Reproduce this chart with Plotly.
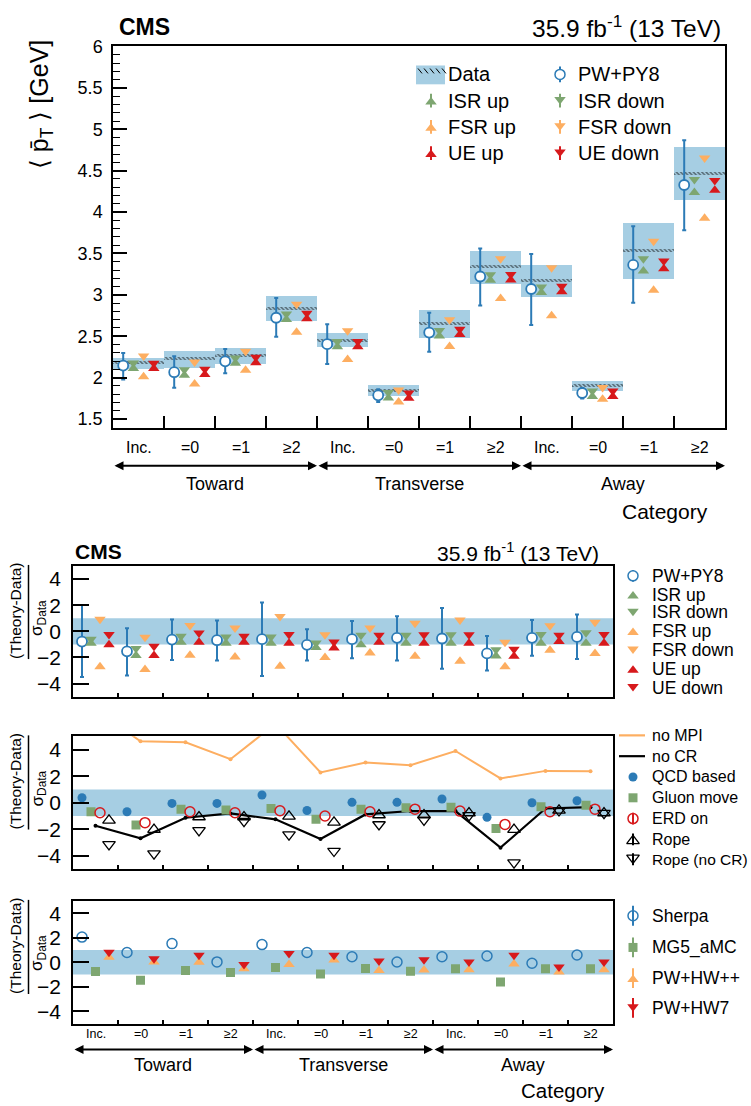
import plotly.graph_objects as go

W, H = 751, 1106

# ---------------- data ----------------
categories = ["Inc.", "=0", "=1", "≥2"] * 3
groups = ["Toward", "Transverse", "Away"]

data_val = [2.186, 2.234, 2.266, 2.836, 2.457, 1.847, 2.664, 3.342, 3.175, 1.907, 3.541, 4.467]
data_lo = [2.106, 2.126, 2.166, 2.692, 2.373, 1.787, 2.485, 3.135, 2.983, 1.847, 3.199, 4.147]
data_hi = [2.246, 2.325, 2.357, 2.991, 2.545, 1.915, 2.824, 3.533, 3.362, 1.967, 3.876, 4.785]
pwpy8 = [2.146, 2.066, 2.198, 2.724, 2.405, 1.787, 2.545, 3.222, 3.071, 1.815, 3.362, 4.327]
pwpy8_hi = [2.297, 2.258, 2.345, 2.963, 2.644, 1.859, 2.784, 3.561, 3.494, 1.875, 3.829, 4.869]
pwpy8_lo = [1.978, 1.879, 2.054, 2.493, 2.166, 1.707, 2.313, 2.872, 2.636, 1.747, 2.904, 3.781]
isr_dn = [2.162, 2.080, 2.224, 2.754, 2.423, 1.805, 2.555, 3.228, 3.081, 1.825, 3.422, 4.379]
isr_up = [2.126, 2.044, 2.188, 2.718, 2.387, 1.769, 2.519, 3.192, 3.045, 1.789, 3.302, 4.251]
fsr_dn = [2.246, 2.174, 2.305, 2.872, 2.553, 1.835, 2.684, 3.422, 3.314, 1.867, 3.633, 4.638]
fsr_up = [2.026, 1.939, 2.106, 2.565, 2.234, 1.720, 2.393, 2.971, 2.764, 1.755, 3.071, 3.940]
ue_dn = [2.158, 2.088, 2.232, 2.762, 2.423, 1.801, 2.571, 3.232, 3.089, 1.825, 3.394, 4.367]
ue_up = [2.126, 2.052, 2.196, 2.726, 2.387, 1.765, 2.535, 3.196, 3.053, 1.789, 3.330, 4.279]

r_pw = [-0.78, -1.53, -0.63, -0.68, -0.60, -1.03, -0.60, -0.50, -0.55, -1.69, -0.50, -0.43]
r_pw_hi = [2.01, 0.23, 0.91, 0.83, 2.21, 0.15, 0.78, 1.16, 1.79, -0.35, 0.86, 1.28]
r_pw_lo = [-3.50, -3.37, -2.19, -2.24, -3.42, -2.24, -2.06, -2.24, -2.87, -2.99, -1.86, -2.11]
r_isr_dn = [-0.70, -1.41, -0.48, -0.53, -0.53, -0.98, -0.40, -0.40, -0.35, -1.50, -0.33, -0.20]
r_isr_up = [-0.81, -1.76, -0.75, -0.81, -0.81, -1.15, -0.93, -0.81, -0.81, -1.80, -0.81, -0.81]
r_fsr_dn = [0.83, -0.55, 0.35, 0.15, 1.03, -0.35, 0.15, 0.53, 0.78, -0.93, 0.33, 0.60]
r_fsr_up = [-2.62, -2.82, -1.74, -1.86, -2.57, -1.91, -1.56, -1.81, -2.19, -2.62, -1.36, -1.61]
r_ue_dn = [-0.33, -1.23, -0.23, -0.48, -0.33, -0.91, -0.40, -0.35, -0.35, -1.46, -0.40, -0.33]
r_ue_up = [-0.93, -1.76, -0.75, -0.75, -0.81, -1.18, -0.75, -0.81, -0.81, -1.81, -0.68, -0.81]

r_nompi = [7.0, 4.63, 4.55, 3.28, 5.95, 2.28, 3.03, 2.83, 3.90, 1.83, 2.40, 2.38]
r_nocr = [-1.73, -2.68, -1.13, -0.80, -1.25, -2.73, -0.88, -0.62, -0.63, -3.38, -0.43, -0.33]
r_qcd = [0.38, -0.68, -0.05, -0.05, 0.58, -0.58, 0.03, 0.03, 0.28, -1.10, 0.00, 0.15]
r_gluon = [-0.68, -1.68, -0.48, -0.55, -0.43, -1.25, -0.48, -0.38, -0.33, -1.93, -0.30, -0.18]
r_erd = [-0.75, -1.50, -0.68, -0.75, -0.60, -1.00, -0.68, -0.48, -0.63, -1.63, -0.68, -0.48]
r_rope = [-1.23, -1.93, -0.98, -0.98, -0.93, -1.38, -0.83, -0.83, -0.68, -1.93, -0.48, -0.68]
r_rope_nocr = [-3.23, -3.93, -2.18, -1.48, -2.50, -3.73, -1.73, -1.38, -1.05, -4.60, -0.68, -0.88]

r_sherpa = [2.05, 0.80, 1.52, 0.03, 1.44, 0.80, 0.45, 0.02, 0.45, 0.51, -0.08, 0.59]
r_mg5 = [-0.75, -1.47, -0.67, -0.83, -0.43, -0.96, -0.51, -0.72, -0.53, -1.60, -0.53, -0.53]
r_hw7 = [0.72, 0.19, 0.48, -0.27, 0.61, 0.48, 0.00, 0.10, -0.08, 0.48, -0.48, -0.08]
r_hwpp = [0.51, 0.12, 0.11, -0.43, -0.08, 0.29, -0.56, -0.53, -0.51, -0.03, -0.69, -0.51]

# ---------------- style ----------------
FONT = "Liberation Sans"
BLUE = "#2c7bb6"
LBLUE = "#a6cee3"
GREEN = "#7ea671"
ORANGE = "#fdae61"
RED = "#d7191c"
TRI = 10
BAND = 0.018

def px(x):
    return x / W

def py(y):
    return 1 - y / H

TOP = dict(x0=113, x1=725, y0=37, y1=423, r=[1.39, 6.01])
P1 = dict(x0=73, x1=613, y0=562, y1=694, r=[-5, 5])
P2 = dict(x0=73, x1=613, y0=734, y1=868, r=[-5, 5])
P3 = dict(x0=73, x1=613, y0=900, y1=1024, r=[-5, 5])

def ppu(p):
    return (p["y1"] - p["y0"]) / (p["r"][1] - p["r"][0])

def up_anchor(vals, p):
    # plotly's triangle-up is anchored r/4 below its visual centre
    return [v - (TRI / 8) / ppu(p) for v in vals]

def dn_anchor(vals, p):
    return [v + (TRI / 8) / ppu(p) for v in vals]

idx = list(range(len(categories)))

def at(d):
    return [i + d for i in idx]

fig = go.Figure()

# ---------------- top panel ----------------
fig.add_trace(go.Bar(x=idx, y=[h - l for h, l in zip(data_hi, data_lo)], base=data_lo, width=1,
                     marker=dict(color=LBLUE, line=dict(width=0)), xaxis="x", yaxis="y", showlegend=False))
fig.add_trace(go.Bar(x=idx, y=[2 * BAND] * len(idx), base=[v - BAND for v in data_val], width=1,
                     marker=dict(color="rgba(0,0,0,0)", line=dict(width=0),
                                 pattern=dict(shape="\\", fgcolor="black", size=3, solidity=0.5)),
                     xaxis="x", yaxis="y", showlegend=False))

def tri_pair(xs, up, dn, cup, cdn, p, xa, ya):
    fig.add_trace(go.Scatter(x=xs, y=up_anchor(up, p), mode="markers", xaxis=xa, yaxis=ya, showlegend=False,
                             marker=dict(symbol="triangle-up", size=TRI, color=cup, line=dict(width=0))))
    fig.add_trace(go.Scatter(x=xs, y=dn_anchor(dn, p), mode="markers", xaxis=xa, yaxis=ya, showlegend=False,
                             marker=dict(symbol="triangle-down", size=TRI, color=cdn, line=dict(width=0))))

fig.add_trace(go.Scatter(x=at(-0.3), y=pwpy8, mode="markers", xaxis="x", yaxis="y", showlegend=False,
                         error_y=dict(type="data", array=[h - v for h, v in zip(pwpy8_hi, pwpy8)],
                                      arrayminus=[v - l for v, l in zip(pwpy8, pwpy8_lo)],
                                      color=BLUE, thickness=2, width=2),
                         marker=dict(symbol="circle", size=10, color="white", line=dict(color=BLUE, width=1.8))))
tri_pair(at(-0.1), isr_up, isr_dn, GREEN, GREEN, TOP, "x", "y")
tri_pair(at(0.1), fsr_up, fsr_dn, ORANGE, ORANGE, TOP, "x", "y")
tri_pair(at(0.3), ue_up, ue_dn, RED, RED, TOP, "x", "y")

# ---------------- panel 1 ----------------
fig.add_trace(go.Scatter(x=at(-0.3), y=r_pw, mode="markers", xaxis="x2", yaxis="y2", showlegend=False,
                         error_y=dict(type="data", array=[h - v for h, v in zip(r_pw_hi, r_pw)],
                                      arrayminus=[v - l for v, l in zip(r_pw, r_pw_lo)],
                                      color=BLUE, thickness=2, width=2),
                         marker=dict(symbol="circle", size=10, color="white", line=dict(color=BLUE, width=1.8))))
tri_pair(at(-0.1), r_isr_up, r_isr_dn, GREEN, GREEN, P1, "x2", "y2")
tri_pair(at(0.1), r_fsr_up, r_fsr_dn, ORANGE, ORANGE, P1, "x2", "y2")
tri_pair(at(0.3), r_ue_up, r_ue_dn, RED, RED, P1, "x2", "y2")

# ---------------- panel 2 ----------------
fig.add_trace(go.Scatter(x=idx, y=r_nompi, mode="lines+markers", xaxis="x3", yaxis="y3", showlegend=False,
                         line=dict(color=ORANGE, width=2), marker=dict(size=4, color=ORANGE)))
fig.add_trace(go.Scatter(x=idx, y=r_nocr, mode="lines+markers", xaxis="x3", yaxis="y3", showlegend=False,
                         line=dict(color="black", width=2.2), marker=dict(size=4, color="black")))
fig.add_trace(go.Scatter(x=at(-0.3), y=r_qcd, mode="markers", xaxis="x3", yaxis="y3", showlegend=False,
                         marker=dict(symbol="circle", size=9, color=BLUE)))
fig.add_trace(go.Scatter(x=at(-0.1), y=r_gluon, mode="markers", xaxis="x3", yaxis="y3", showlegend=False,
                         marker=dict(symbol="square", size=9, color=GREEN)))
fig.add_trace(go.Scatter(x=at(0.1), y=r_erd, mode="markers", xaxis="x3", yaxis="y3", showlegend=False,
                         marker=dict(symbol="circle-open", size=10, color=RED, line=dict(width=1.5))))
fig.add_trace(go.Scatter(x=at(0.3), y=up_anchor(r_rope, P2), mode="markers", xaxis="x3", yaxis="y3",
                         showlegend=False,
                         marker=dict(symbol="triangle-up-open", size=11, color="black", line=dict(width=1.3))))
fig.add_trace(go.Scatter(x=at(0.3), y=dn_anchor(r_rope_nocr, P2), mode="markers", xaxis="x3", yaxis="y3",
                         showlegend=False,
                         marker=dict(symbol="triangle-down-open", size=11, color="black", line=dict(width=1.3))))

# ---------------- panel 3 ----------------
fig.add_trace(go.Scatter(x=at(-0.3), y=r_sherpa, mode="markers", xaxis="x4", yaxis="y4", showlegend=False,
                         marker=dict(symbol="circle-open", size=10, color=BLUE, line=dict(width=1.5))))
fig.add_trace(go.Scatter(x=at(0.0), y=r_mg5, mode="markers", xaxis="x4", yaxis="y4", showlegend=False,
                         marker=dict(symbol="square", size=9, color=GREEN)))
tri_pair(at(0.3), r_hwpp, r_hw7, ORANGE, RED, P3, "x4", "y4")

# ---------------- axes ----------------
def xax(p, anchor, ticklen):
    return dict(domain=[px(p["x0"]), px(p["x1"])], anchor=anchor, range=[-0.5, len(idx) - 0.5],
                tickmode="array", tickvals=[i + 0.5 for i in idx[:-1]], ticks="inside", ticklen=ticklen,
                tickwidth=1.5, tickcolor="black", showticklabels=False, showline=True, linecolor="black",
                linewidth=1.5, mirror=True, showgrid=False, zeroline=False, fixedrange=True)

def yax(p, anchor, fs, standoff, **kw):
    d = dict(domain=[py(p["y1"]), py(p["y0"])], anchor=anchor, range=p["r"], ticks="inside",
             tickwidth=1.5, tickcolor="black", showline=True, linecolor="black", linewidth=1.5,
             mirror=True, showgrid=False, zeroline=False, fixedrange=True, ticklabelstandoff=standoff,
             tickfont=dict(family=FONT, size=fs, color="black"))
    d.update(kw)
    return d

RATIO_TICKS = [-4, -2, 0, 2, 4]
fig.update_layout(
    xaxis=xax(TOP, "y", 12),
    yaxis=yax(TOP, "x", 18, 5, tickmode="linear", tick0=0, dtick=0.5, ticklen=14,
              minor=dict(dtick=0.1, ticklen=7, ticks="inside", tickcolor="black", tickwidth=1.2)),
    xaxis2=xax(P1, "y2", 4),
    yaxis2=yax(P1, "x2", 21, 6, tickmode="array", tickvals=RATIO_TICKS, ticklen=16),
    xaxis3=xax(P2, "y3", 4),
    yaxis3=yax(P2, "x3", 21, 6, tickmode="array", tickvals=RATIO_TICKS, ticklen=16),
    xaxis4=xax(P3, "y4", 4),
    yaxis4=yax(P3, "x4", 21, 6, tickmode="array", tickvals=RATIO_TICKS, ticklen=16),
    xaxis5=dict(domain=[0, 1], range=[0, W], visible=False, anchor="y5", fixedrange=True),
    yaxis5=dict(domain=[0, 1], range=[H, 0], visible=False, anchor="x5", fixedrange=True),
)

shapes = []
annotations = []

for xa, ya in (("x2", "y2"), ("x3", "y3"), ("x4", "y4")):
    shapes.append(dict(type="rect", xref=xa, yref=ya, x0=-0.5, x1=len(idx) - 0.5, y0=-1, y1=1,
                       fillcolor=LBLUE, line=dict(width=0), layer="below"))

def txt(x, y, s, size, xanchor="left", yanchor="middle", bold=False, angle=0, xref="paper"):
    annotations.append(dict(x=x if xref != "paper" else px(x), y=py(y), xref=xref, yref="paper", text=s,
                            showarrow=False, xanchor=xanchor, yanchor=yanchor, textangle=angle,
                            font=dict(family=FONT, size=size, color="black",
                                      weight="bold" if bold else "normal")))

def cat_axis(xa, ylab, yarr, ygrp, ycat, xcat, fs_lab, fs_grp, fs_cat):
    for i, c in zip(idx, categories):
        txt(i, ylab, c, fs_lab, xanchor="center", xref=xa)
    for g, name in enumerate(groups):
        lo_ = 4 * g - 0.5
        hi_ = 4 * g + 3.5
        annotations.append(dict(x=hi_, y=py(yarr), xref=xa, yref="paper", ax=lo_, axref=xa, ay=0,
                                ayref="pixel", text="", showarrow=True, arrowhead=2, arrowside="end+start",
                                arrowwidth=2, arrowsize=0.9, arrowcolor="black"))
        txt(4 * g + 1.5, ygrp, name, fs_grp, xanchor="center", xref=xa)
    txt(xcat, ycat, "Category", fs_cat, xanchor="right")

cat_axis("x", 443, 461, 479, 507, 710, 16, 18, 21)
cat_axis("x4", 1034, 1050, 1066, 1091, 607, 12.5, 18, 20.5)

# experiment labels
txt(117, 18, "CMS", 23, bold=True)
txt(723, 18, "35.9 fb<sup>-1</sup> (13 TeV)", 24.5, xanchor="right")
txt(73, 547, "CMS", 21, bold=True)
txt(601, 548, "35.9 fb<sup>-1</sup> (13 TeV)", 21, xanchor="right")

# axis titles
txt(41, 97, "⟨ p̄<sub>T</sub> ⟩ [GeV]", 25, xanchor="center", yanchor="middle", angle=-90)
for p in (P1, P2, P3):
    top = p["y0"]
    txt(15.5, top + 46, "(Theory-Data)", 15.5, xanchor="center", yanchor="middle", angle=-90)
    shapes.append(dict(type="line", xref="paper", yref="paper", x0=px(28.5), x1=px(28.5),
                       y0=py(top - 1), y1=py(top + 94), line=dict(color="black", width=1.5)))
    txt(38.5, top + 53, "σ<sub>Data</sub>", 17, xanchor="center", yanchor="middle", angle=-90)

# ---------------- legends (drawn by hand) ----------------
def leg(x, y, label, fs, tx, symbol=None, color=None, size=10, fill=None, lw=0, stem=0, line=None):
    if stem:
        fig.add_trace(go.Scatter(x=[x, x], y=[y - stem, y + stem], mode="lines", xaxis="x5", yaxis="y5",
                                 showlegend=False, line=dict(color=color, width=2), hoverinfo="skip"))
    if line:
        fig.add_trace(go.Scatter(x=[x - 14, x + 12], y=[y, y], mode="lines", xaxis="x5", yaxis="y5",
                                 showlegend=False, line=dict(color=line, width=2.2), hoverinfo="skip"))
    if symbol:
        yy = y
        if symbol.startswith("triangle-up"):
            yy = y + size / 8
        elif symbol.startswith("triangle-down"):
            yy = y - size / 8
        fig.add_trace(go.Scatter(x=[x], y=[yy], mode="markers", xaxis="x5", yaxis="y5", showlegend=False,
                                 hoverinfo="skip",
                                 marker=dict(symbol=symbol, size=size, color=fill if fill else color,
                                             line=dict(color=color, width=lw))))
    txt(tx, y, label, fs)

# top legend
C1M, C1T, C2M, C2T = 431, 446, 560, 576
ROWS = [66, 92.5, 119, 145.5]
shapes.append(dict(type="rect", xref="paper", yref="paper", x0=px(416), x1=px(445), y0=py(76), y1=py(57),
                   fillcolor=LBLUE, line=dict(width=0)))
for k in range(5):
    x0 = 418 + 6 * k
    shapes.append(dict(type="line", xref="paper", yref="paper", x0=px(x0), x1=px(x0 + 4), y0=py(60), y1=py(65),
                       line=dict(color="black", width=1)))
txt(C1T, ROWS[0], "Data", 20)
leg(C1M, ROWS[1], "ISR up", 20, C1T, "triangle-up", GREEN, stem=7)
leg(C1M, ROWS[2], "FSR up", 20, C1T, "triangle-up", ORANGE, stem=7)
leg(C1M, ROWS[3], "UE up", 20, C1T, "triangle-up", RED, stem=7)
leg(C2M, ROWS[0], "PW+PY8", 20, C2T, "circle", BLUE, fill="white", lw=1.5, stem=8)
leg(C2M, ROWS[1], "ISR down", 20, C2T, "triangle-down", GREEN, stem=7)
leg(C2M, ROWS[2], "FSR down", 20, C2T, "triangle-down", ORANGE, stem=7)
leg(C2M, ROWS[3], "UE down", 20, C2T, "triangle-down", RED, stem=7)

LX, TX = 633, 650
for y, lab, sym, col, fill, lw in [
    (572, "PW+PY8", "circle", BLUE, "white", 1.5),
    (591, "ISR up", "triangle-up", GREEN, None, 0),
    (609, "ISR down", "triangle-down", GREEN, None, 0),
    (628, "FSR up", "triangle-up", ORANGE, None, 0),
    (647, "FSR down", "triangle-down", ORANGE, None, 0),
    (666, "UE up", "triangle-up", RED, None, 0),
    (685, "UE down", "triangle-down", RED, None, 0),
]:
    leg(LX, y, lab, 17.5, TX, sym, col, fill=fill, lw=lw, stem=6 if sym == "circle" else 0)

leg(LX, 733, "no MPI", 16, TX, line=ORANGE)
leg(LX, 754, "no CR", 16, TX, line="black")
leg(LX, 775, "QCD based", 16, TX, "circle", BLUE, size=9)
leg(LX, 796, "Gluon move", 16, TX, "square", GREEN, size=9)
leg(LX, 817, "ERD on", 16, TX, "circle-open", RED, lw=1.5, stem=6)
leg(LX, 838, "Rope", 16, TX, "triangle-up-open", "black", size=11, lw=1.3, stem=6)
leg(LX, 858, "Rope (no CR)", 15.5, TX, "triangle-down-open", "black", size=11, lw=1.3, stem=6)

leg(LX, 915, "Sherpa", 17.5, TX, "circle-open", BLUE, lw=1.5, stem=10)
leg(LX, 947, "MG5_aMC", 17.5, TX, "square", GREEN, size=9, stem=10)
leg(LX, 978, "PW+HW++", 17.5, TX, "triangle-up", ORANGE, stem=10)
leg(LX, 1008, "PW+HW7", 17.5, TX, "triangle-down", RED, stem=10)

fig.update_layout(
    width=W, height=H, margin=dict(l=0, r=0, t=0, b=0),
    paper_bgcolor="white", plot_bgcolor="rgba(0,0,0,0)",
    barmode="overlay", bargap=0, showlegend=False,
    font=dict(family=FONT, color="black"),
    shapes=shapes, annotations=annotations,
)

# the default page body has an 8px margin; remove it so the 751x1106 figure fills the window exactly
fig.write_html("out.html", config={"displayModeBar": False},
               post_script="document.body.style.margin='0';document.body.style.overflow='hidden';")
